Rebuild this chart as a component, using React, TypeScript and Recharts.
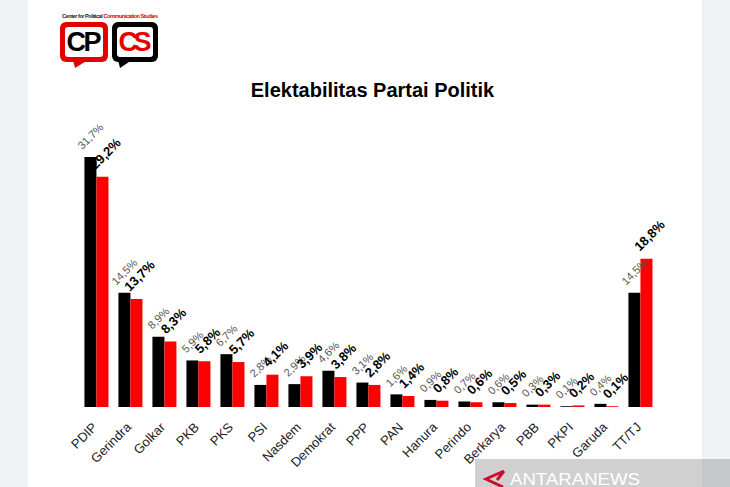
import React from 'react';
import { BarChart, Bar, XAxis, YAxis, LabelList } from 'recharts';

const categories = ['PDIP', 'Gerindra', 'Golkar', 'PKB', 'PKS', 'PSI', 'Nasdem', 'Demokrat', 'PPP', 'PAN', 'Hanura', 'Perindo', 'Berkarya', 'PBB', 'PKPI', 'Garuda', 'TT/TJ'];
const surveyA = [31.7, 14.5, 8.9, 5.9, 6.7, 2.8, 2.9, 4.6, 3.1, 1.6, 0.9, 0.7, 0.6, 0.3, 0.1, 0.4, 14.5];
const surveyB = [29.2, 13.7, 8.3, 5.8, 5.7, 4.1, 3.9, 3.8, 2.8, 1.4, 0.8, 0.6, 0.5, 0.3, 0.2, 0.1, 18.8];

const data = categories.map((name, i) => ({ name, a: surveyA[i], b: surveyB[i] }));

const FONT = '"Liberation Sans", Arial, sans-serif';

const fmt = (v: number) => v.toFixed(1).replace('.', ',') + '%';

const textLen = (s: string, fs: number) => {
  let w = 0;
  for (const ch of s) {
    if (ch === ',') w += 0.278;
    else if (ch === '%') w += 0.889;
    else w += 0.556;
  }
  return w * fs;
};

const makeLabel = (fs: number, bold: boolean, fill: string, dx: number) => (props: any) => {
  const { x, y, width, value } = props;
  if (value == null) return null;
  const s = fmt(Number(value));
  const L = textLen(s, fs);
  const capH = 0.716 * fs;
  const halfH = ((L + capH) * 0.707) / 2;
  const cx = Number(x) + Number(width) / 2 + dx;
  const cy = Number(y) - 7 - halfH;
  return (
    <g transform={`translate(${cx},${cy}) rotate(-45)`}>
      <text x={0} y={0} dy="0.358em" textAnchor="middle" fontSize={fs} fontWeight={bold ? 'bold' : 'normal'} fill={fill} fontFamily={FONT}>
        {s}
      </text>
    </g>
  );
};

const CatTick = (props: any) => {
  const { x, y, payload } = props;
  return (
    <g transform={`translate(${x + 2},${y + 21}) rotate(-45)`}>
      <text x={0} y={0} textAnchor="end" fontSize={13} fill="#222" fontFamily={FONT}>
        {payload.value}
      </text>
    </g>
  );
};

export default function App() {
  return (
    <div style={{ position: 'absolute', left: 0, top: 0, width: 730, height: 487, background: '#eff1f4', overflow: 'hidden' }}>
      <div style={{ position: 'absolute', left: 28, top: 0, width: 674, height: 487, background: '#ffffff' }} />
      <div style={{ position: 'absolute', left: 0, top: 0 }}>
        <BarChart width={730} height={487} data={data} margin={{ top: 131, right: 73, left: 79, bottom: 50 }} barCategoryGap="16%" barGap={0}>
          <XAxis dataKey="name" interval={0} tickLine={false} axisLine={false} tickSize={0} tickMargin={0} height={30} tick={<CatTick />} />
          <YAxis hide domain={[0, 35]} />
          <Bar dataKey="a" fill="#000000" isAnimationActive={false}>
            <LabelList dataKey="a" content={makeLabel(11, false, '#555555', 0)} />
          </Bar>
          <Bar dataKey="b" fill="#ff0000" isAnimationActive={false}>
            <LabelList dataKey="b" content={makeLabel(13, true, '#000000', 3)} />
          </Bar>
        </BarChart>
      </div>
      <svg width={730} height={487} style={{ position: 'absolute', left: 0, top: 0, pointerEvents: 'none' }}>
        {/* logo */}
        <text x={62} y={18} fontSize={5.6} fontWeight="bold" fontFamily={FONT} textLength={96}>
          <tspan fill="#222">Center for Political </tspan>
          <tspan fill="#d00000">Communication Studies</tspan>
        </text>
        <rect x={60} y={22} width={48} height={40} rx={6} fill="#e30000" />
        <polygon points="73,60 75,68 88,60" fill="#e30000" />
        <rect x={65} y={27} width={38} height={30} rx={3} fill="#ffffff" />
        <text x={84} y={51} textAnchor="middle" fontSize={27} fontWeight="bold" fill="#000" fontFamily={FONT} textLength={35}>CP</text>
        <rect x={112} y={22} width={46} height={40} rx={6} fill="#000000" />
        <polygon points="118,60 120,68 132,60" fill="#000000" />
        <rect x={117} y={27} width={36} height={30} rx={3} fill="#ffffff" />
        <text x={135} y={51} textAnchor="middle" fontSize={27} fontWeight="bold" fill="#e30000" fontFamily={FONT} textLength={33}>CS</text>
        {/* title */}
        <text x={372.5} y={97} textAnchor="middle" fontSize={20} fontWeight="bold" fill="#000" fontFamily={FONT}>
          Elektabilitas Partai Politik
        </text>
        {/* watermark */}
        <rect x={475} y={459} width={255} height={28} fill="rgba(128,128,128,0.37)" />
        <path d="M504,471 L486,479 L503,487 M504,471 L497,480" stroke="#c8102e" strokeWidth={3} fill="none" />
        <text x={510} y={485} fontSize={16} fill="#ffffff" fontFamily={FONT} textLength={130} lengthAdjust="spacingAndGlyphs">ANTARANEWS</text>
      </svg>
    </div>
  );
}
